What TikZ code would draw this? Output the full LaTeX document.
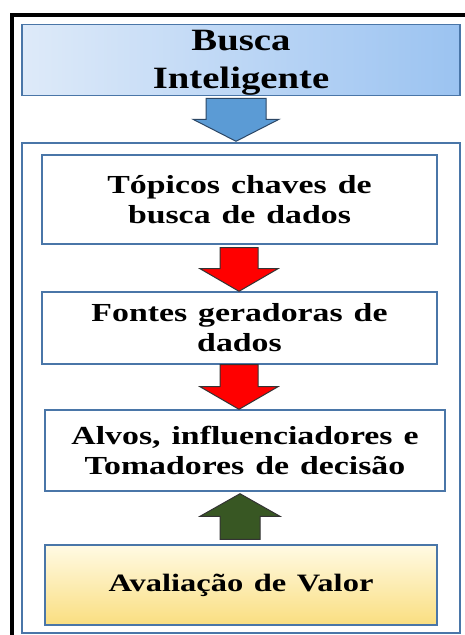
\documentclass[tikz,border=0pt]{standalone}
\usepackage{fontspec}
\setmainfont{Liberation Serif}
\newfontfamily\titlefont{Liberation Serif}[FakeStretch=1.25,WordSpace=1.5]
\newfontfamily\boxfont{Liberation Serif}[FakeStretch=1.3,WordSpace=1.3]
\usepackage{xcolor}
\definecolor{ibframe}{RGB}{74,118,168}
\definecolor{ibtitleL}{RGB}{222,234,249}
\definecolor{ibtitleR}{RGB}{155,195,241}
\definecolor{ibblue}{RGB}{91,155,213}
\definecolor{ibred}{RGB}{255,0,0}
\definecolor{ibgreen}{RGB}{56,87,35}
\definecolor{ibyellowT}{RGB}{255,250,228}
\definecolor{ibyellowB}{RGB}{250,222,128}
\usetikzlibrary{positioning, calc}

\tikzset{
  stagebox/.style={draw=ibframe, line width=1.4pt, fill=white, inner sep=0pt,
    align=center, font=\boxfont\bfseries\fontsize{26}{30}\selectfont},
  blockdown/.style={line width=1pt, draw=black!80},
}

\begin{document}
\begin{tikzpicture}[x=1pt, y=-1pt]
  \useasboundingbox (0,0) rectangle (465,635);
  \fill[white] (0,0) rectangle (465,635);

  % Black page frame (left and top edges only visible)
  \draw[line width=4pt] (12,640) -- (12,15) -- (470,15);

  % Title
  \node[draw=ibframe, line width=1.6pt, left color=ibtitleL, right color=ibtitleR,
    minimum width=438pt, minimum height=71pt, inner sep=0pt] (title) at (241,60) {};
  \node[align=center, inner sep=0pt, font=\titlefont\bfseries\fontsize{31}{38}\selectfont]
    (titletext) at ($(title.center)+(0,3)$) {Busca\\Inteligente};

  % Outer panel
  \node[draw=ibframe, line width=1.4pt, minimum width=438pt, minimum height=490pt,
    inner sep=0pt] (panel) at (241,388) {};

  % Stages
  \node[stagebox, minimum width=395pt, minimum height=89pt] (topics) at (239.5,199.5)
    {T\'opicos chaves de\\busca de dados};
  \node[stagebox, minimum width=395pt, minimum height=72pt] (sources) at (239.5,328)
    {Fontes geradoras de\\dados};
  \node[stagebox, minimum width=400pt, minimum height=81pt] (targets) at (245,450.5)
    {Alvos, influenciadores e\\Tomadores de decis\~ao};
  \node[stagebox, top color=ibyellowT, bottom color=ibyellowB,
    minimum width=392pt, minimum height=80pt,
    font=\boxfont\bfseries\fontsize{25}{30}\selectfont] (value) at (241,585)
    {Avalia\c{c}\~ao de Valor};

  % Block arrows
  \coordinate (a1) at (title.south -| 236,0);
  \filldraw[blockdown, fill=ibblue, draw=ibframe!60!black]
    ($(a1)+(-30,2)$) -- ++(0,21) -- ++(-13,0) -- ($(a1)+(0,45)$)
    -- ($(a1)+(43,23)$) -- ++(-13,0) -- ++(0,-21) -- cycle;
  \coordinate (a2) at (topics.south -| 239,0);
  \filldraw[blockdown, fill=ibred]
    ($(a2)+(-19,3)$) -- ++(0,21) -- ++(-20,0) -- (sources.north -| 239,0)
    -- ($(a2)+(39,24)$) -- ++(-20,0) -- ++(0,-21) -- cycle;
  \coordinate (a3) at (sources.south -| 239,0);
  \filldraw[blockdown, fill=ibred]
    ($(a3)+(-19,0)$) -- ++(0,22) -- ++(-20,0) -- (targets.north -| 239,0)
    -- ($(a3)+(39,22)$) -- ++(-20,0) -- ++(0,-22) -- cycle;
  \coordinate (a4) at (value.north -| 240,0);
  \filldraw[blockdown, fill=ibgreen]
    ($(a4)+(-20,-5)$) -- ++(0,-23) -- ++(-20,0) -- ($(targets.south -| 240,0)+(0,2)$)
    -- ($(a4)+(40,-28)$) -- ++(-20,0) -- ++(0,23) -- cycle;
\end{tikzpicture}
\end{document}
